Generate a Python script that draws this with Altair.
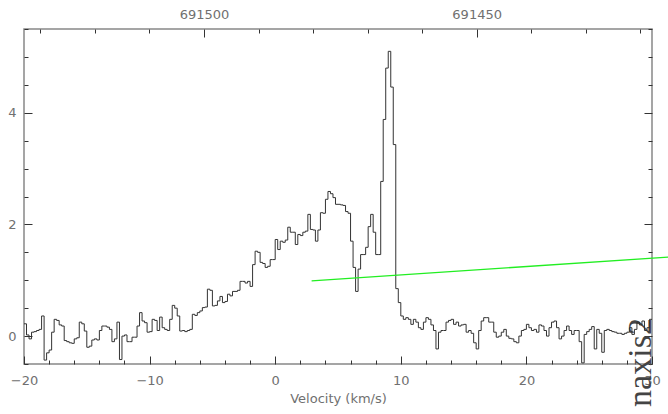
import altair as alt
import pandas as pd

# ---------------- data ----------------
V_START = -20.0      # km/s, first channel edge
CHANNEL = 0.2        # km/s channel width

flux = [
    0.22, 0.02, -0.05, 0.07, 0.08, 0.10, 0.12, 0.36, -0.43, -0.30,
    -0.25, 0.07, 0.30, 0.28, 0.20, 0.18, -0.08, -0.10, -0.12, -0.13,
    -0.05, -0.03, 0.25, 0.22, 0.09, -0.20, -0.18, -0.07, -0.05, -0.07,
    0.10, 0.18, 0.18, 0.16, 0.12, -0.10, -0.05, 0.25, -0.42, 0.00,
    0.02, -0.10, -0.10, -0.02, -0.02, 0.18, 0.42, 0.27, 0.24, 0.07,
    0.08, 0.30, 0.28, 0.10, 0.34, 0.15, 0.12, 0.10, 0.30, 0.55,
    0.50, 0.36, 0.09, 0.10, 0.08, 0.10, 0.12, 0.39, 0.37, 0.42,
    0.45, 0.51, 0.52, 0.84, 0.82, 0.54, 0.55, 0.63, 0.71, 0.60,
    0.62, 0.75, 0.72, 0.80, 0.80, 0.82, 0.98, 0.98, 0.95, 0.98,
    0.89, 1.28, 1.52, 1.50, 1.32, 1.30, 1.23, 1.25, 1.37, 1.37,
    1.73, 1.55, 1.70, 1.68, 1.72, 1.95, 1.86, 1.86, 1.64, 1.82,
    1.80, 1.86, 1.88, 2.18, 1.91, 1.90, 1.70, 1.90, 2.21, 2.20,
    2.45, 2.59, 2.55, 2.48, 2.36, 2.36, 2.35, 2.34, 2.23, 2.20,
    1.70, 1.23, 0.80, 1.20, 1.46, 1.46, 1.59, 1.96, 2.18, 1.86,
    1.46, 1.46, 2.77, 3.88, 4.80, 5.10, 4.46, 3.43, 0.85, 0.60,
    0.36, 0.30, 0.33, 0.30, 0.21, 0.30, 0.25, 0.15, 0.12, 0.25,
    0.33, 0.30, 0.20, 0.10, -0.23, 0.07, 0.10, 0.10, 0.25, 0.28,
    0.30, 0.21, 0.25, 0.18, 0.20, 0.21, 0.07, 0.10, 0.05, -0.12,
    -0.23, 0.10, 0.27, 0.33, 0.33, 0.25, 0.25, 0.07, -0.02, 0.00,
    0.07, 0.12, 0.00, -0.04, -0.05, -0.10, -0.12, 0.00, 0.10, 0.12,
    0.21, 0.15, 0.10, 0.12, 0.07, 0.20, 0.18, 0.10, 0.00, 0.15,
    0.25, 0.27, 0.15, -0.05, 0.00, 0.10, 0.18, 0.10, 0.03, 0.10,
    0.10, -0.10, -0.48, 0.03, 0.08, 0.12, 0.17, -0.23, 0.12, 0.05,
    -0.29, 0.10, 0.12, 0.10, 0.08, 0.07, 0.05, 0.05, 0.03, 0.05,
    0.07, 0.15, 0.03, 0.12, 0.25, 0.20, 0.27, 0.10, 0.15, 0.30,
]

# fitted baseline (green line) end points
base_v = [2.9, 33.0]
base_flux = [0.99, 1.44]

# frequency axis (top) range matching the velocity range
freq_range = [691417.85, 691533.0]
flux_range = [-0.5, 5.5]
vel_range = [-20, 30]

x_ticks = list(range(-20, 31, 2))
y_ticks = [-0.5 + 0.5 * k for k in range(13)]
f_ticks = list(range(691420, 691531, 10))

# ---------------- tables ----------------
velocity = [round(V_START + CHANNEL * i, 3) for i in range(len(flux))]
spec_df = pd.DataFrame({"v": velocity + [round(velocity[-1] + CHANNEL, 3)],
                        "flux": flux + [flux[-1]]})
base_df = pd.DataFrame({"v": base_v, "flux": base_flux})
freq_df = pd.DataFrame({"freq": freq_range, "flux": flux_range})

LABEL_FONT = "DejaVu Sans"
LABEL_COLOR = "#707070"
TICK_COLOR = "#333333"

xscale = alt.Scale(domain=vel_range, nice=False, zero=False)
yscale = alt.Scale(domain=flux_range, nice=False, zero=False)
fscale = alt.Scale(domain=[freq_range[0], freq_range[1]], reverse=True, nice=False, zero=False)


def ticksize(test):
    return {"condition": {"test": test, "value": -8}, "value": -4}


common = dict(grid=False, domain=False, ticks=True, tickColor=TICK_COLOR, tickWidth=1,
              labelFont=LABEL_FONT, labelFontSize=13, labelColor=LABEL_COLOR,
              labelOverlap=False, labelFlush=False)

bottom_axis = alt.Axis(
    orient="bottom", values=x_ticks, format="d",
    labelExpr="datum.value % 10 === 0 ? datum.label : ''",
    tickSize=ticksize("datum.value % 10 === 0"), labelPadding=18,
    title="Velocity (km/s)", titleFont=LABEL_FONT, titleFontSize=13,
    titleFontWeight="normal", titleColor=LABEL_COLOR,
    titleBaseline="alphabetic", titleY=38,
    **common)

left_axis = alt.Axis(
    orient="left", values=y_ticks,
    labelExpr="datum.value % 2 === 0 ? '' + datum.value : ''",
    tickSize=ticksize("datum.value % 2 === 0"), labelPadding=16,
    title=None, **common)

top_axis = alt.Axis(
    orient="top", values=f_ticks, format="d",
    labelExpr="datum.value % 50 === 0 ? datum.label : ''",
    tickSize=ticksize("datum.value % 50 === 0"), labelPadding=16,
    title=None, **common)

right_axis = alt.Axis(
    orient="right", values=y_ticks, labels=False,
    tickSize=ticksize("datum.value % 2 === 0"),
    title="naxis2", titleFont="Liberation Serif", titleFontSize=34,
    titleFontWeight="normal", titleColor="#444444", titleAngle=270,
    titleAlign="center", titleBaseline="alphabetic", titleX=-2, titleY=333,
    grid=False, domain=False, ticks=True, tickColor=TICK_COLOR, tickWidth=1)

spectrum = alt.Chart(spec_df).mark_line(
    interpolate="step-after", color="#333333", strokeWidth=1
).encode(
    x=alt.X("v:Q", scale=xscale, axis=bottom_axis),
    y=alt.Y("flux:Q", scale=yscale, axis=left_axis),
)

baseline = alt.Chart(base_df).mark_line(color="#22ee22", strokeWidth=1.3).encode(
    x=alt.X("v:Q", scale=xscale, axis=None),
    y=alt.Y("flux:Q", scale=yscale, axis=None),
)

freq_layer = alt.Chart(freq_df).mark_point(opacity=0).encode(
    x=alt.X("freq:Q", scale=fscale, axis=top_axis),
    y=alt.Y("flux:Q", scale=yscale, axis=right_axis),
)

chart = alt.layer(spectrum, baseline, freq_layer).resolve_scale(
    x="independent"
).resolve_axis(
    x="independent", y="independent"
).properties(
    width=628, height=335,
    autosize=alt.AutoSizeParams(type="none"),
    padding={"left": 24, "top": 29, "right": 16, "bottom": 50},
    background="white",
).configure_view(
    stroke="#888888", strokeWidth=1.5
)

chart.save("out.html", embed_options={"renderer": "svg", "actions": False})
